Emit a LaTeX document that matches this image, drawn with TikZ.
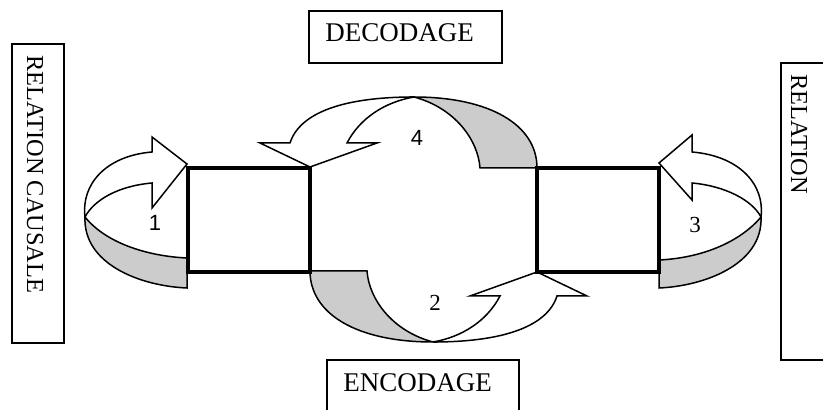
\documentclass[tikz,border=0pt]{standalone}
\usepackage{fontspec}
\setmainfont{Liberation Serif}
\newfontfamily\numsans{Liberation Sans}
\definecolor{bandgray}{RGB}{204,204,204}
\begin{document}
\begin{tikzpicture}[x=0.5pt,y=-0.5pt,
  ribbon/.style={draw=black, line width=0.75pt, line join=miter},
  band/.style={ribbon, fill=bandgray},
  face/.style={ribbon, fill=white},
  heavybox/.style={draw, line width=2pt, inner sep=0pt, minimum width=61pt, minimum height=52pt},
  labelbox/.style={draw, line width=0.75pt, inner sep=0pt},
  title/.style={font=\fontsize{13.5}{16}\selectfont, inner sep=0pt},
  vtitle/.style={font=\fontsize{12.2}{14}\selectfont, inner sep=0pt, rotate=-90, anchor=west},
  numserif/.style={font=\fontsize{11.5}{13}\selectfont, inner sep=0pt},
  numsans/.style={font=\numsans\fontsize{11}{13}\selectfont, inner sep=0pt}]

\useasboundingbox (0,0) rectangle (823,410);
\clip (0,0) rectangle (823,410);

% label boxes
\node[labelbox, minimum width=26pt, minimum height=149.5pt] (causebox) at (38,193.5) {};
\node[labelbox, minimum width=26pt, minimum height=148.5pt] (relbox) at (807,211.5) {};
\node[labelbox, minimum width=96.5pt, minimum height=26pt] (decbox) at (405.5,37) {};
\node[labelbox, minimum width=96pt, minimum height=30pt] (encbox) at (423,390) {};

\node[title, anchor=base west] (dectext) at (325,42) {DECODAGE};
\node[title, anchor=base west] (enctext) at (343,392) {ENCODAGE};
\node[vtitle] (causetext) at (35,55) {RELATION CAUSALE};
\node[vtitle] (reltext) at (799,74) {RELATION};

% left ribbon arrow (1)
\path[face] (152,152) -- (152,137) -- (187,164) -- (152,208) -- (152,183)
  .. controls (118,186) and (94,200) .. (85,217)
  .. controls (81,185) and (105,156) .. (152,152) -- cycle;
\path[band] (85,217) .. controls (105,242) and (145,256) .. (187,258) -- (187,288)
  .. controls (140,286) and (83,264) .. (85,217) -- cycle;

% right ribbon arrow (3)
\path[face] (692,152) -- (692,135) -- (659,163) -- (692,200) -- (692,183)
  .. controls (725,186) and (752,200) .. (761,217)
  .. controls (765,185) and (740,156) .. (692,152) -- cycle;
\path[band] (761,217) .. controls (740,242) and (702,258) .. (659,260) -- (659,288)
  .. controls (705,286) and (763,264) .. (761,217) -- cycle;

% top ribbon arrow (4)
\path[face] (290,143) -- (260,143) -- (310,167) -- (377,143) -- (347,143)
  .. controls (360,118) and (385,102) .. (414,97)
  .. controls (345,97) and (300,112) .. (290,143) -- cycle;
\path[band] (414,97) .. controls (455,108) and (478,140) .. (480,168) -- (537,168)
  .. controls (537,125) and (490,97) .. (414,97) -- cycle;

% bottom ribbon arrow (2)
\begin{scope}[rotate around={180:(423.5,219.5)}]
\path[face] (290,143) -- (260,143) -- (310,167) -- (377,143) -- (347,143)
  .. controls (360,118) and (385,102) .. (414,97)
  .. controls (345,97) and (300,112) .. (290,143) -- cycle;
\path[band] (414,97) .. controls (455,108) and (478,140) .. (480,168) -- (537,168)
  .. controls (537,125) and (490,97) .. (414,97) -- cycle;
\end{scope}

% heavy boxes
\node[heavybox] (boxL) at (248.5,220) {};
\node[heavybox] (boxR) at (598,220) {};

% numbers
\node[numsans] (n1) at (155,223) {1};
\node[numserif] (n2) at (435,303) {2};
\node[numserif] (n3) at (695,225) {3};
\node[numsans] (n4) at (417,138) {4};
\end{tikzpicture}
\end{document}
